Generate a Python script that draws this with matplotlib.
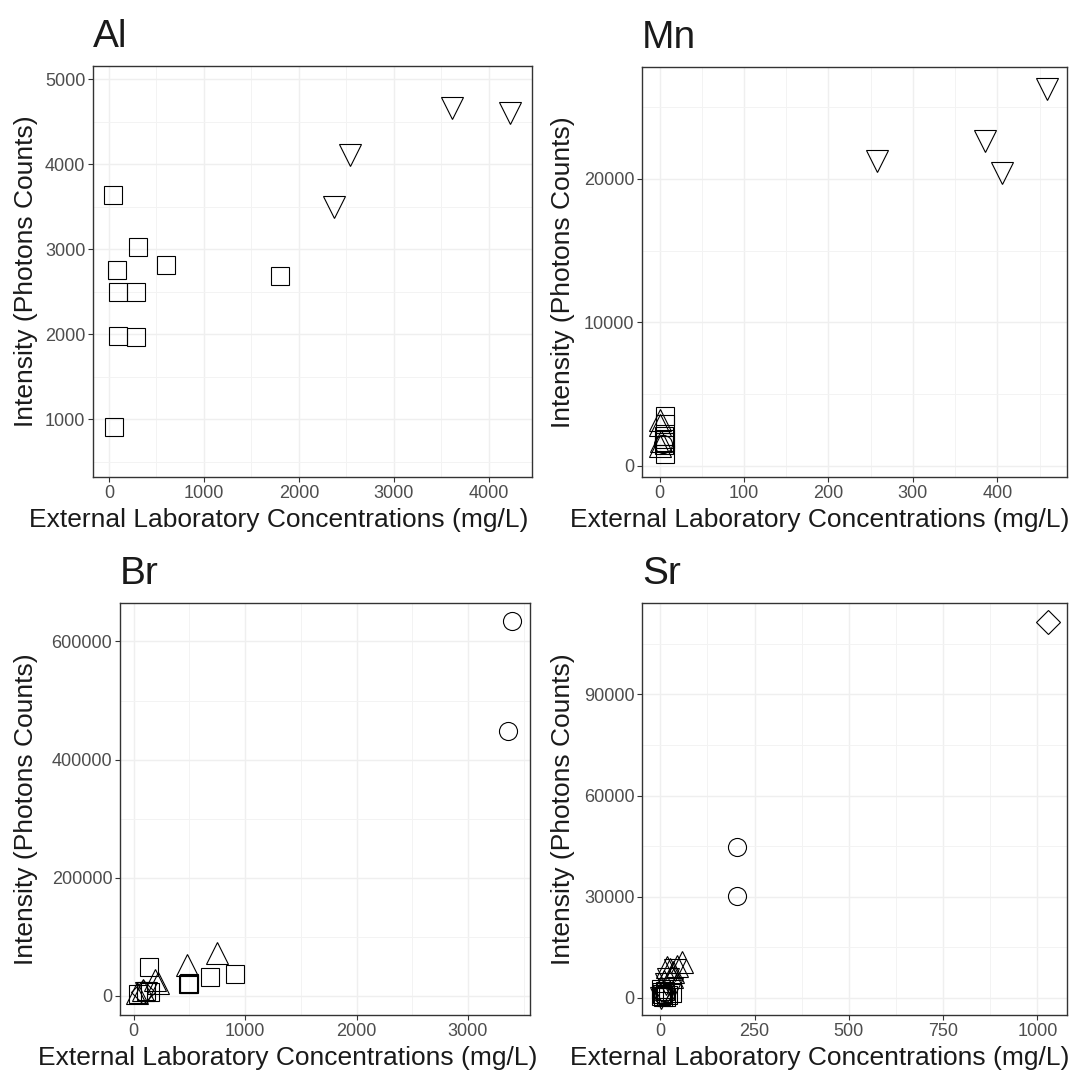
import matplotlib
matplotlib.use("Agg")
import matplotlib.pyplot as plt
from matplotlib.ticker import MultipleLocator

plt.rcParams['font.family'] = ['Liberation Sans', 'DejaVu Sans']

# ---- data ----
# Al
al_sq_x = [42, 305, 86, 600, 92, 284, 1800, 92, 280, 55]
al_sq_y = [3635, 3024, 2750, 2812, 2490, 2490, 2685, 1980, 1965, 905]
al_tdn_x = [2368, 2537, 3612, 4217]
al_tdn_y = [3493, 4112, 4666, 4607]

# Mn
mn_tdn_x = [258, 385, 406, 459]
mn_tdn_y = [21280, 22670, 20400, 26300]
mn_sq_x = [6, 6, 5, 7, 6, 5, 6]
mn_sq_y = [3510, 2950, 2100, 1900, 1700, 1450, 860]
mn_tup_x = [1, 0.5, 2, 0.5]
mn_tup_y = [3200, 2840, 1720, 1390]
mn_ci_x = [4]
mn_ci_y = [1560]

# Br
br_ci_x = [3392, 3362]
br_ci_y = [633900, 448800]
br_sq_x = [141, 485, 495, 500, 689, 910, 42, 147, 110]
br_sq_y = [48500, 20300, 22000, 19500, 32700, 37200, 2800, 7300, 9000]
br_tup_x = [745, 482, 192, 222, 27, 87]
br_tup_y = [73000, 52500, 27000, 22500, 5600, 10000]
br_di_x = [87]
br_di_y = [7300]
br_tdn_x = [110]
br_tdn_y = [5000]

# Sr
sr_di_x = [1029]
sr_di_y = [111400]
sr_ci_x = [204, 203, 5, 10]
sr_ci_y = [44800, 30170, 1000, 1800]
sr_tup_x = [57, 18, 35, 25, 45, 10, 30]
sr_tup_y = [10700, 9200, 7700, 8500, 9500, 5000, 6000]
sr_tdn_x = [40, 20, 15, 30, 8, 3]
sr_tdn_y = [8200, 5500, 4000, 2500, 1000, 0]
sr_sq_x = [2, 5, 8, 12, 20, 30, 3, 15]
sr_sq_y = [500, 1200, 300, 2000, 800, 1500, 2500, 100]

xlab = 'External Laboratory Concentrations (mg/L)'
ylab = 'Intensity (Photons Counts)'

W = 1070.0
fig = plt.figure(figsize=(10.7, 10.7), dpi=100)


def make_ax(left, top, right, bottom):
    return fig.add_axes([left / W, 1 - bottom / W, (right - left) / W, (bottom - top) / W])


def style(ax, title, xmaj, ymaj, xlim, ylim, lab_right, px):
    left, top, right, bottom, ylab_x = px
    ax.set_xlim(*xlim)
    ax.set_ylim(*ylim)
    ax.xaxis.set_major_locator(MultipleLocator(xmaj))
    ax.xaxis.set_minor_locator(MultipleLocator(xmaj / 2))
    ax.yaxis.set_major_locator(MultipleLocator(ymaj))
    ax.yaxis.set_minor_locator(MultipleLocator(ymaj / 2))
    ax.set_axisbelow(True)
    ax.grid(which='major', color='#EFEFEF', lw=1.0)
    ax.grid(which='minor', color='#F3F3F3', lw=0.7)
    ax.tick_params(which='major', direction='out', length=3.5, width=0.8,
                   color='#333333', labelcolor='#4D4D4D', labelsize=13, pad=2)
    ax.tick_params(which='minor', length=0)
    for s in ax.spines.values():
        s.set_color('#333333')
        s.set_linewidth(1.0)
    ax.set_title(title, loc='left', fontsize=28, color='#1A1A1A', pad=13.5)
    ax.set_xlabel(xlab, fontsize=19, color='#1A1A1A', ha='right')
    ax.xaxis.set_label_coords((lab_right - left) / (right - left), -31 / (bottom - top))
    ax.set_ylabel(ylab, fontsize=19, color='#1A1A1A')
    ax.yaxis.set_label_coords((ylab_x - left) / (right - left), 0.5)


mk = dict(mfc='none', mec='black', mew=0.8, ls='none')

# Al
p = (93, 66, 532, 477, 38)
ax = make_ax(*p[:4])
ax.plot(al_sq_x, al_sq_y, marker='s', ms=12.5, **mk)
ax.plot(al_tdn_x, al_tdn_y, marker='v', ms=15.5, **mk)
style(ax, 'Al', 1000, 1000, (-168, 4453), (318, 5156), 528, p)

# Mn
p = (642, 67, 1067, 477, 575)
ax = make_ax(*p[:4])
ax.plot(mn_sq_x, mn_sq_y, marker='s', ms=12.5, **mk)
ax.plot(mn_tup_x, mn_tup_y, marker='^', ms=15.5, **mk)
ax.plot(mn_ci_x, mn_ci_y, marker='o', ms=13, **mk)
ax.plot(mn_tdn_x, mn_tdn_y, marker='v', ms=15.5, **mk)
style(ax, 'Mn', 100, 10000, (-20.8, 482.5), (-767, 27805), 1069, p)

# Br
p = (120, 603, 530, 1015, 38)
ax = make_ax(*p[:4])
ax.plot(br_sq_x, br_sq_y, marker='s', ms=12.5, **mk)
ax.plot(br_tup_x, br_tup_y, marker='^', ms=15.5, **mk)
ax.plot(br_di_x, br_di_y, marker='D', ms=12, **mk)
ax.plot(br_tdn_x, br_tdn_y, marker='v', ms=15.5, **mk)
ax.plot(br_ci_x, br_ci_y, marker='o', ms=13, **mk)
style(ax, 'Br', 1000, 200000, (-123, 3557), (-32180, 665000), 537, p)

# Sr
p = (642, 603, 1067, 1015, 575)
ax = make_ax(*p[:4])
ax.plot(sr_sq_x, sr_sq_y, marker='s', ms=12.5, **mk)
ax.plot(sr_tdn_x, sr_tdn_y, marker='v', ms=15.5, **mk)
ax.plot(sr_tup_x, sr_tup_y, marker='^', ms=15.5, **mk)
ax.plot(sr_ci_x, sr_ci_y, marker='o', ms=13, **mk)
ax.plot(sr_di_x, sr_di_y, marker='D', ms=12, **mk)
style(ax, 'Sr', 250, 30000, (-48.5, 1078.7), (-5140, 117140), 1069, p)

fig.savefig('out.png', dpi=100)
